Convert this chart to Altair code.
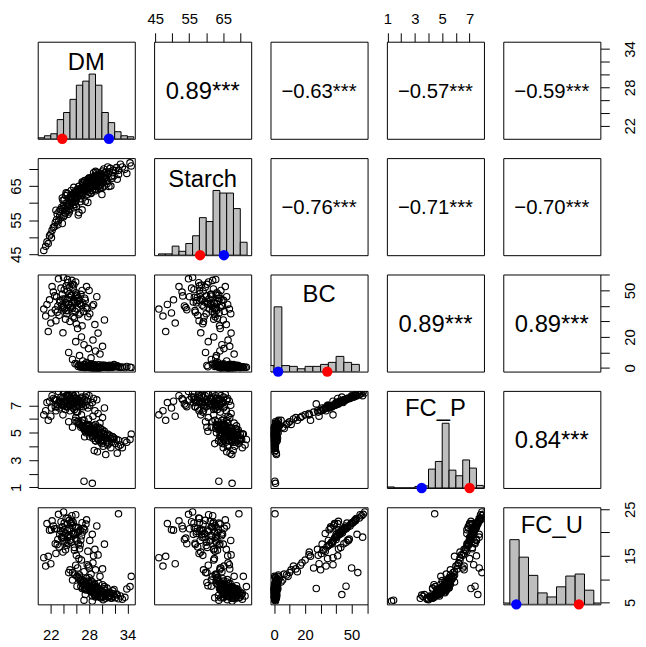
import altair as alt
import pandas as pd

VARS = ["DM", "Starch", "BC", "FC_P", "FC_U"]

# ---- observations (white-fleshed, outliers, intermediate, yellow) ----
DM = [
    28.4, 29.1, 27.6, 30.2, 28.9, 29.7, 31.0, 27.2, 28.1, 30.6,
    26.8, 29.4, 28.6, 31.5, 29.9, 27.9, 30.9, 28.2, 29.2, 32.1,
    26.4, 29.6, 28.0, 30.4, 27.4, 31.3, 28.8, 29.0, 30.0, 27.0,
    32.6, 28.5, 29.3, 30.7, 26.1, 28.3, 31.8, 29.8, 27.7, 30.3,
    33.2, 28.7, 29.5, 27.3, 31.1, 28.0, 30.5, 29.1, 26.6, 32.9,
    28.4, 29.9, 27.5, 31.6, 28.9, 30.1, 34.4, 27.8, 29.4, 28.6,
    30.8, 26.9, 29.7, 31.9, 28.2, 29.0, 33.6, 27.1, 30.2, 28.7,
    29.6, 31.2, 27.9, 30.0, 28.1, 32.3, 25.8, 29.3, 30.6, 28.8,
    31.4, 27.6, 29.8, 28.3, 30.9, 29.2, 26.3, 28.6, 30.4, 34.6,
    28.0, 29.5, 27.3, 31.7, 29.0, 33.9, 28.5, 30.1, 26.7, 32.4,
    27.2, 28.5, 32.6,
    27.9, 28.6, 26.5, 29.4, 27.2, 25.4, 28.9, 30.1, 26.8, 27.6,
    24.8, 29.7, 26.2, 28.3, 30.4, 25.9, 27.0, 29.0, 23.9, 28.1,
    24.6, 25.3, 23.8, 26.1, 24.1, 25.7, 22.9, 26.6, 24.9, 25.1,
    23.4, 26.3, 24.4, 25.9, 23.1, 27.0, 24.7, 25.5, 22.4, 26.8,
    24.2, 25.8, 23.6, 26.4, 24.0, 25.2, 22.7, 27.3, 24.8, 25.6,
    23.3, 26.0, 24.3, 25.4, 21.8, 26.9, 24.5, 25.0, 23.7, 26.2,
    22.2, 27.5, 24.9, 25.3, 23.0, 26.5, 24.6, 25.7, 23.9, 26.7,
    24.1, 25.8, 22.6, 27.1, 24.4, 25.1, 23.5, 26.3, 24.7, 25.5,
    21.4, 22.1, 20.9, 21.2, 22.0, 21.6, 27.8, 28.5, 29.2, 27.6,
    23.2, 24.0, 25.9, 22.8, 26.0, 24.3, 25.6, 23.8, 26.6, 25.2,
    26.9, 27.4, 26.1, 28.0, 25.4, 24.6, 27.7, 26.4, 25.0, 28.7,
]
STARCH = [
    65.8, 66.9, 64.2, 67.5, 67.8, 65.4, 68.6, 63.5, 66.7, 69.1,
    62.9, 64.8, 67.2, 67.9, 68.3, 65.1, 66.4, 64.6, 69.0, 69.5,
    64.9, 66.1, 67.4, 68.8, 60.5, 70.2, 65.0, 67.6, 65.9, 65.6,
    68.4, 63.7, 68.1, 67.1, 61.8, 66.3, 69.7, 64.3, 66.0, 70.0,
    70.6, 65.5, 67.0, 64.0, 64.9, 63.2, 68.2, 65.3, 63.0, 71.4,
    67.0, 66.6, 64.7, 67.3, 64.1, 69.4, 71.8, 60.2, 68.5, 66.5,
    65.7, 66.2, 67.7, 68.0, 65.2, 63.6, 69.9, 63.9, 66.2, 68.9,
    64.5, 69.2, 67.1, 62.5, 64.4, 70.4, 62.6, 66.0, 67.5, 67.9,
    65.0, 65.4, 68.7, 63.0, 70.6, 66.4, 63.3, 65.6, 67.3, 70.9,
    64.8, 65.1, 66.6, 68.9, 69.3, 68.7, 66.8, 64.6, 64.3, 67.0,
    63.7, 67.6, 69.6,
    65.2, 66.4, 63.0, 67.3, 64.6, 61.5, 65.9, 66.9, 62.2, 63.4,
    59.8, 68.2, 64.1, 62.8, 65.0, 60.6, 66.0, 64.0, 58.4, 67.2,
    58.9, 61.2, 61.5, 62.7, 56.4, 60.3, 55.1, 63.8, 59.7, 62.0,
    56.2, 56.5, 63.0, 63.1, 53.6, 62.4, 57.8, 59.4, 52.9, 64.5,
    58.5, 61.8, 55.7, 57.2, 59.3, 60.1, 54.3, 63.6, 61.4, 58.6,
    57.5, 62.9, 57.1, 62.6, 50.4, 58.0, 60.0, 58.2, 58.8, 63.4,
    52.0, 64.1, 57.4, 61.9, 56.8, 62.3, 59.1, 63.3, 60.8, 61.3,
    60.9, 59.6, 53.1, 65.3, 58.0, 61.7, 58.1, 64.0, 56.7, 62.1,
    48.6, 49.8, 46.1, 47.3, 50.9, 48.1, 62.6, 64.8, 66.0, 65.6,
    54.8, 56.0, 60.7, 57.9, 59.0, 62.2, 64.6, 54.0, 60.4, 63.7,
    63.9, 65.1, 61.5, 64.3, 60.2, 62.8, 66.8, 62.4, 59.2, 66.3,
]
BC = [
    0.6, 1.2, 0.3, 0.9, 1.8, 0.2, 1.1, 2.3, 0.8, 0.5,
    1.5, 0.4, 0.0, 0.7, 1.4, 2.7, 0.1, 1.0, 0.6, 0.9,
    1.9, 0.0, 0.3, 1.6, 0.8, 0.4, 2.1, 0.0, 1.3, 0.5,
    0.8, 1.7, 0.0, 1.0, 2.5, 0.2, 1.2, 0.7, 1.4, 0.3,
    0.6, 1.1, 2.0, 0.1, 0.5, 0.9, 1.5, 0.1, 1.2, 0.4,
    2.4, 0.8, 0.4, 1.3, 0.2, 1.0, 0.5, 1.6, 0.6, 0.0,
    0.9, 1.1, 0.3, 2.2, 0.7, 1.8, 0.2, 0.9, 0.5, 1.3,
    0.0, 1.7, 0.6, 1.0, 0.2, 0.8, 2.8, 0.4, 1.5, 0.9,
    0.3, 1.2, 0.1, 2.6, 0.7, 0.0, 0.9, 0.5, 1.1, 0.3,
    1.4, 0.6, 2.0, 0.4, 0.8, 1.0, 0.2, 1.9, 0.5, 1.4,
    0.5, 0.9, 0.6,
    12.5, 18.0, 8.0, 22.5, 15.0, 5.5, 28.0, 14.0, 20.0, 3.5,
    10.0, 9.0, 25.5, 6.5, 31.0, 17.0, 4.5, 11.0, 22.7, 35.0,
    44.0, 41.5, 47.5, 38.0, 50.5, 43.0, 46.0, 35.5, 52.0, 39.0,
    42.5, 45.5, 37.0, 48.5, 40.0, 42.0, 55.0, 33.0, 49.0, 40.5,
    44.5, 36.5, 51.5, 43.5, 39.5, 46.5, 37.5, 45.0, 41.0, 53.5,
    34.0, 47.0, 42.0, 38.5, 44.0, 50.0, 35.0, 48.0, 40.5, 43.0,
    52.5, 39.0, 45.5, 56.5, 36.0, 41.5, 49.5, 32.0, 44.5, 47.5,
    38.0, 42.5, 46.5, 36.5, 53.0, 40.0, 43.5, 45.0, 37.0, 51.0,
    41.0, 35.5, 38.0, 33.5, 29.0, 23.5, 33.0, 40.0, 46.0, 52.5,
    57.5, 58.5, 55.5, 30.5, 28.5, 31.5, 44.0, 39.0, 41.5, 47.0,
    27.2, 43.7, 46.4, 50.0, 54.0, 57.1, 38.0, 34.5, 30.0, 41.0,
]
FC_P = [
    4.9, 4.7, 5.2, 4.5, 5.0, 4.8, 4.4, 5.4, 5.1, 4.6,
    5.5, 4.9, 5.3, 4.3, 4.7, 5.6, 4.1, 5.0, 5.2, 4.2,
    5.7, 4.8, 5.3, 4.9, 5.1, 4.6, 5.4, 4.4, 5.0, 5.5,
    4.0, 5.2, 4.6, 4.8, 5.8, 5.1, 4.5, 4.3, 5.3, 4.9,
    3.9, 5.0, 5.4, 4.7, 4.2, 5.5, 4.6, 5.1, 5.6, 4.1,
    5.3, 4.4, 5.0, 4.7, 4.9, 5.2, 4.5, 5.4, 4.5, 5.0,
    4.3, 5.7, 4.8, 4.6, 5.2, 4.4, 4.4, 5.3, 4.0, 5.5,
    5.0, 4.8, 5.1, 4.2, 4.7, 4.5, 5.9, 3.6, 3.4, 3.7,
    3.9, 5.6, 5.3, 5.0, 4.9, 5.4, 5.8, 4.6, 5.1, 4.9,
    5.5, 4.5, 5.2, 4.7, 5.0, 4.3, 4.8, 4.4, 5.4, 3.5,
    1.45, 1.3, 4.45,
    6.0, 6.2, 5.6, 6.4, 5.9, 5.4, 6.6, 6.1, 6.3, 5.5,
    5.8, 5.7, 6.5, 5.3, 6.8, 6.1, 5.9, 5.6, 6.3, 7.0,
    7.3, 7.1, 7.5, 7.0, 7.6, 7.2, 7.4, 6.9, 7.7, 7.0,
    7.2, 7.4, 6.9, 7.5, 7.1, 7.3, 7.8, 6.8, 7.5, 7.1,
    7.2, 6.9, 7.6, 7.3, 7.0, 7.4, 6.9, 7.4, 7.1, 7.7,
    6.8, 7.5, 7.2, 7.0, 7.3, 7.6, 6.9, 7.5, 7.1, 7.3,
    7.7, 7.0, 7.4, 7.9, 6.9, 7.2, 7.6, 6.7, 7.3, 7.5,
    7.0, 7.2, 7.4, 6.9, 7.7, 7.1, 7.3, 7.4, 6.9, 7.6,
    7.2, 6.8, 6.3, 6.6, 6.2, 5.9, 6.8, 7.2, 7.4, 7.8,
    8.0, 7.9, 7.8, 6.6, 6.5, 6.7, 7.3, 7.0, 7.2, 7.5,
    7.1, 7.6, 7.4, 7.7, 7.9, 7.7, 7.3, 7.0, 6.6, 7.5,
]
FC_U = [
    7.2, 6.8, 7.9, 6.4, 8.3, 7.0, 6.1, 8.8, 7.5, 6.6,
    9.2, 7.7, 8.1, 5.9, 7.3, 9.6, 6.3, 8.5, 7.1, 6.0,
    10.1, 6.9, 7.6, 8.0, 8.6, 6.5, 9.0, 6.2, 7.4, 8.2,
    5.8, 9.4, 7.0, 6.7, 10.6, 7.8, 6.8, 6.0, 8.7, 7.2,
    5.7, 7.5, 9.1, 7.9, 6.2, 10.3, 7.6, 8.4, 9.8, 6.4,
    8.0, 6.3, 7.7, 6.9, 8.9, 7.3, 8.4, 9.3, 6.6, 7.4,
    8.1, 9.9, 7.1, 7.8, 8.2, 6.5, 6.1, 9.5, 5.6, 8.6,
    7.9, 7.2, 8.3, 6.0, 7.5, 6.8, 10.9, 6.3, 5.9, 6.7,
    6.0, 8.9, 7.7, 9.7, 7.0, 8.0, 10.4, 7.3, 8.4, 10.6,
    8.1, 6.9, 9.0, 7.5, 7.8, 7.9, 6.4, 8.8, 8.5, 6.6,
    5.5, 5.3, 24.0,
    12.8, 13.5, 10.9, 15.2, 11.6, 9.8, 16.4, 12.2, 14.1, 10.2,
    11.4, 10.6, 12.4, 11.1, 17.5, 13.0, 9.4, 12.0, 15.8, 18.3,
    20.4, 22.4, 21.2, 18.2, 22.0, 16.8, 20.8, 17.3, 22.6, 21.9,
    19.6, 21.0, 17.9, 18.6, 18.5, 20.1, 23.1, 19.8, 21.4, 19.3,
    20.7, 21.2, 22.3, 20.2, 18.9, 17.9, 17.6, 20.6, 19.4, 19.6,
    16.9, 21.1, 19.8, 21.5, 20.5, 22.1, 17.2, 18.3, 19.0, 20.0,
    22.5, 21.8, 20.9, 23.6, 17.4, 16.5, 21.8, 16.2, 20.3, 18.4,
    18.1, 19.7, 20.8, 20.9, 23.0, 19.2, 20.4, 17.6, 17.7, 22.2,
    21.9, 20.6, 14.6, 12.8, 13.3, 14.9, 16.0, 19.6, 21.4, 22.7,
    23.9, 24.4, 23.8, 15.5, 15.1, 16.3, 19.9, 18.8, 20.5, 22.0,
    8.0, 6.7, 8.5, 12.4, 11.4, 19.0, 13.1, 14.4, 12.0, 15.0,
]

# ---- histogram bins (start, width, counts) read from the diagonal ----
HIST_DM = (20, 1, [1, 3, 5, 19, 26, 39, 53, 57, 64, 53, 26, 16, 7, 3, 2])
HIST_STARCH = (46, 2, [1, 1, 7, 3, 9, 15, 29, 26, 50, 48, 48, 36, 10])
HIST_BC = (-5, 5, [15, 162, 15, 13, 7, 13, 13, 18, 23, 38, 23, 18])
HIST_FC_P = (1, 0.5, [2, 0, 0, 0, 3, 4, 37, 52, 127, 35, 24, 55, 39, 5])
HIST_FC_U = (4, 2, [2, 96, 70, 43, 17, 11, 26, 42, 45, 21, 2])
HISTS = {"DM": HIST_DM, "Starch": HIST_STARCH, "BC": HIST_BC,
         "FC_P": HIST_FC_P, "FC_U": HIST_FC_U}

# parent values marked on the diagonals
RED_PARENT = [23.8, 58.2, 34.3, 7.0, 20.8]
BLUE_PARENT = [31.1, 65.2, 2.6, 3.5, 7.4]

# correlations (upper panels)
CORR_ROW = [0, 0, 0, 0, 1, 1, 1, 2, 2, 3]
CORR_COL = [1, 2, 3, 4, 2, 3, 4, 3, 4, 4]
CORR_TEXT = ["0.89***", "\u22120.63***", "\u22120.57***", "\u22120.59***",
             "\u22120.76***", "\u22120.71***", "\u22120.70***",
             "0.89***", "0.89***", "0.84***"]

DOMAINS = {"DM": [19.95, 35.15], "Starch": [44.7, 73.2], "BC": [-2.32, 60.3],
           "FC_P": [0.96, 8.05], "FC_U": [4.6, 25.4]}
TICKS = {"DM": [22, 24, 26, 28, 30, 32, 34], "Starch": [45, 50, 55, 60, 65, 70],
         "BC": [0, 10, 20, 30, 40, 50, 60], "FC_P": [1, 2, 3, 4, 5, 6, 7],
         "FC_U": [5, 10, 15, 20, 25]}
TICK_LABELS = {"DM": [22, 28, 34], "Starch": [45, 55, 65], "BC": [0, 20, 50],
               "FC_P": [1, 3, 5, 7], "FC_U": [5, 15, 25]}

# ---- style ----
FONT = "Liberation Sans"
W = 98
SP = 19.5
NAME_BASE = {"DM": 29, "Starch": 29.5, "BC": 28, "FC_P": 25, "FC_U": 26}
X_AXES = {(0, 1): "top", (0, 3): "top", (4, 0): "bottom", (4, 2): "bottom", (4, 4): "bottom"}
Y_AXES = {(1, 0): "left", (3, 0): "left", (0, 4): "right", (2, 4): "right", (4, 4): "right"}

df = pd.DataFrame({"DM": DM, "Starch": STARCH, "BC": BC, "FC_P": FC_P, "FC_U": FC_U})


def sc(v):
    return alt.Scale(domain=DOMAINS[v], nice=False, zero=False)


def make_axis(var, orient):
    keep = " || ".join(f"datum.value == {k}" for k in TICK_LABELS[var])
    kw = dict(orient=orient, values=TICKS[var], labelExpr=f"({keep}) ? datum.label : ''",
              domain=False, grid=False, ticks=True, tickSize=9, tickWidth=1,
              tickColor="black", labelFont=FONT, labelFontSize=15, labelColor="black",
              labelOverlap=False, labelFlush=False, title=None)
    if orient == "top":
        kw.update(labelAngle=0, labelAlign="center", labelBaseline="bottom", labelPadding=6)
    elif orient == "bottom":
        kw.update(labelAngle=0, labelAlign="center", labelBaseline="top", labelPadding=14)
    elif orient == "left":
        kw.update(labelAngle=270, labelAlign="center", labelBaseline="bottom", labelPadding=5)
    else:
        kw.update(labelAngle=270, labelAlign="center", labelBaseline="top", labelPadding=13)
    return alt.Axis(**kw)


def axis_layer(var, channel, orient):
    d = pd.DataFrame({"v": DOMAINS[var]})
    base = alt.Chart(d).mark_point(opacity=0)
    if channel == "x":
        return base.encode(x=alt.X("v:Q", scale=sc(var), axis=make_axis(var, orient)))
    return base.encode(y=alt.Y("v:Q", scale=sc(var), axis=make_axis(var, orient)))


def hist_panel(k, xo, yo):
    v = VARS[k]
    start, step, counts = HISTS[v]
    starts = [start + n * step for n in range(len(counts))]
    hd = pd.DataFrame({"start": starts, "end": [s + step for s in starts],
                       "count": counts, "base": [0] * len(counts)})
    ymax = 1.5 * max(counts)
    ysc = alt.Scale(domain=[0, ymax], nice=False, zero=False)
    xax = make_axis(v, xo) if xo else None
    bars = alt.Chart(hd).mark_rect(color="#bebebe", stroke="black", strokeWidth=1, clip=True).encode(
        x=alt.X("start:Q", scale=sc(v), axis=xax),
        x2="end:Q",
        y=alt.Y("count:Q", scale=ysc, axis=None),
        y2="base:Q",
    )
    pdots = pd.DataFrame({"value": [RED_PARENT[k], BLUE_PARENT[k]], "base": [0, 0],
                          "col": ["#ff0000", "#0000ff"]})
    dots = alt.Chart(pdots).mark_circle(size=110, opacity=1).encode(
        x=alt.X("value:Q", scale=sc(v), axis=None),
        y=alt.Y("base:Q", scale=ysc, axis=None),
        color=alt.Color("col:N", scale=None),
    )
    name = alt.Chart(pd.DataFrame({"name": [v]})).mark_text(
        font=FONT, fontSize=24, color="black", align="center", baseline="alphabetic"
    ).encode(text="name:N", x=alt.value(W / 2), y=alt.value(NAME_BASE[v]))
    layers = [bars, dots, name]
    if yo:
        layers.append(axis_layer(v, "y", yo))
        return alt.layer(*layers).resolve_scale(y="independent").properties(width=W, height=W)
    return alt.layer(*layers).properties(width=W, height=W)


def scatter_panel(i, j, xo, yo):
    xv, yv = VARS[j], VARS[i]
    return alt.Chart(df).mark_point(shape="circle", filled=False, size=42, color="black",
                                    strokeWidth=1.15, opacity=1, clip=True).encode(
        x=alt.X(f"{xv}:Q", scale=sc(xv), axis=make_axis(xv, xo) if xo else None),
        y=alt.Y(f"{yv}:Q", scale=sc(yv), axis=make_axis(yv, yo) if yo else None),
    ).properties(width=W, height=W)


def text_panel(i, j, xo, yo):
    idx = [n for n in range(len(CORR_ROW)) if CORR_ROW[n] == i and CORR_COL[n] == j][0]
    label = CORR_TEXT[idx]
    fs = 20.5 if label.startswith("\u2212") else 24
    txt = alt.Chart(pd.DataFrame({"t": [label]})).mark_text(
        font=FONT, fontSize=fs, color="black", align="center", baseline="alphabetic", dy=0.358 * fs
    ).encode(text="t:N", x=alt.value(W / 2), y=alt.value(W / 2))
    layers = [txt]
    if xo:
        layers.append(axis_layer(VARS[j], "x", xo))
    if yo:
        layers.append(axis_layer(VARS[i], "y", yo))
    return alt.layer(*layers).properties(width=W, height=W)


panels = []
for i in range(5):
    for j in range(5):
        xo = X_AXES.get((i, j))
        yo = Y_AXES.get((i, j))
        if i == j:
            panels.append(hist_panel(i, xo, yo))
        elif i > j:
            panels.append(scatter_panel(i, j, xo, yo))
        else:
            panels.append(text_panel(i, j, xo, yo))

chart = alt.concat(*panels, columns=5, spacing=SP, bounds="flush").properties(
    padding={"left": 0, "top": 0, "right": 0, "bottom": 0},
).configure_view(stroke="black", strokeWidth=1)

chart.save("out.html", embed_options={"renderer": "svg", "actions": False})
